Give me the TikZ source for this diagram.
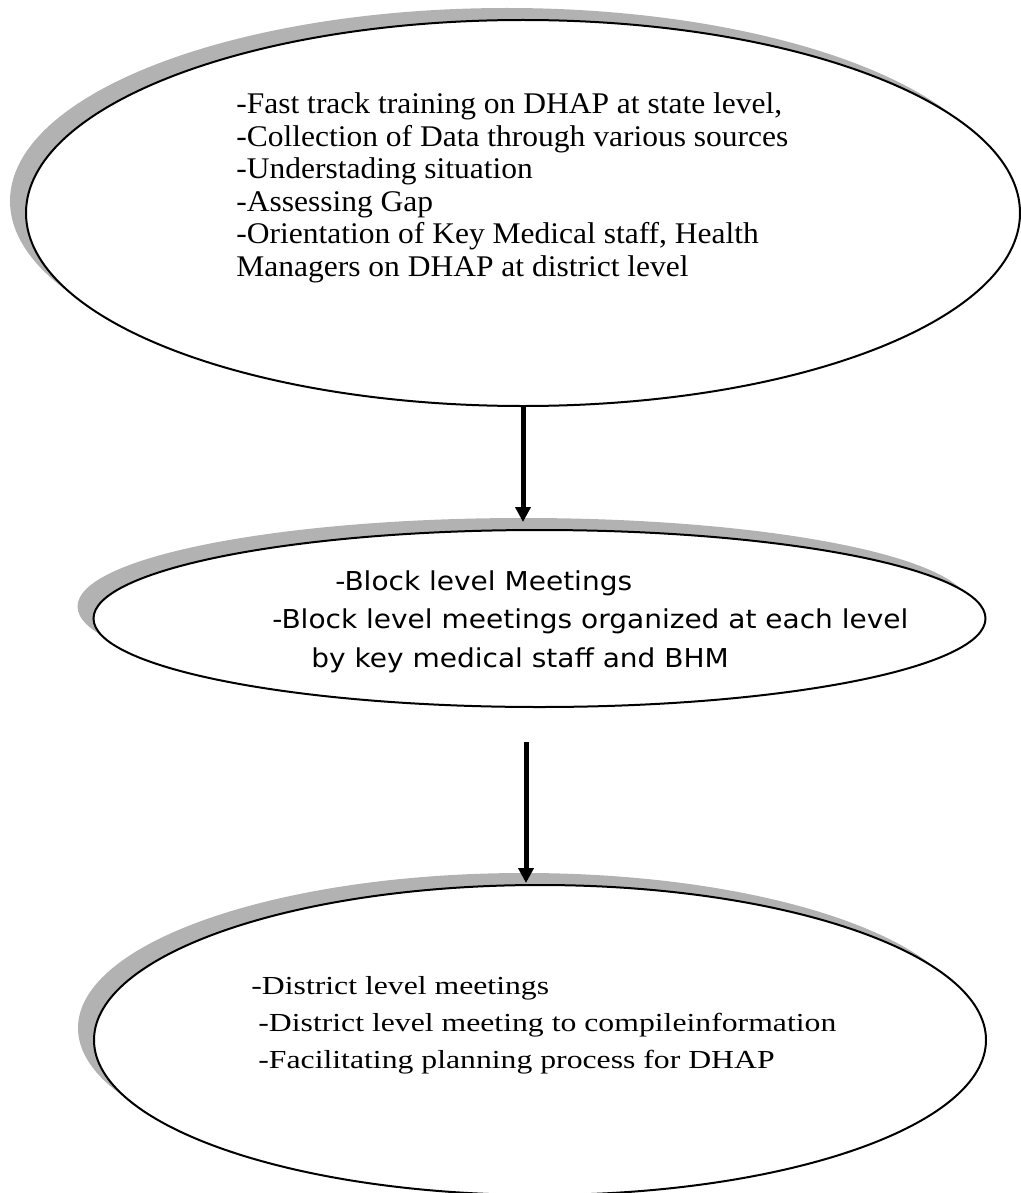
\documentclass[tikz,border=0pt]{standalone}
\usepackage{fontspec}
\setmainfont{Liberation Serif}
\newfontfamily\statefont[FakeStretch=1.05]{Liberation Serif}
\newfontfamily\blockfont[FakeStretch=1.077]{DejaVu Sans}
\newfontfamily\districtfont[FakeStretch=1.22]{Liberation Serif}
\usetikzlibrary{shapes.geometric,shadows,arrows.meta}

\begin{document}
\begin{tikzpicture}[x=0.5pt,y=-0.5pt,
   stage/.style={ellipse,draw,line width=1pt,fill=white,inner sep=0pt,
      drop shadow={shadow xshift=-8pt,shadow yshift=6pt,opacity=1,fill=black!30}},
   stagetext/.style={anchor=north west,align=left,inner sep=0pt},
   flow/.style={-{Triangle[length=7.5pt,width=7.5pt]},line width=2.5pt}]
\useasboundingbox (0,0) rectangle (1021,1193);
% the three stages
\node[stage,minimum width=497pt,minimum height=193pt] (state) at (523,213) {};
\node[stage,minimum width=446pt,minimum height=88.5pt] (block) at (539.5,618.5) {};
\node[stage,minimum width=446pt,minimum height=155pt] (district) at (540,1040) {};
% texts
\node[stagetext,font={\statefont\fontsize{15}{16.25}\selectfont}] (statetext) at (236,92.5)
  {-Fast track training on DHAP at state level,\\
   -Collection of Data through various sources\\
   -Understading situation\\
   -Assessing Gap\\
   -Orientation of Key Medical staff, Health\\
   Managers on DHAP at district level};
\node[stagetext,font={\blockfont\fontsize{13}{19.25}\selectfont}] (blocktext) at (272,570)
  {\hspace*{31.5pt}-Block level Meetings\\
   -Block level meetings organized at each level\\
   \hspace*{19.5pt}by key medical staff and BHM};
\node[stagetext,font={\districtfont\fontsize{13}{18.5}\selectfont}] (districttext) at (251,976)
  {-District level meetings\\
   \hspace*{3.5pt}-District level meeting to compileinformation\\
   \hspace*{3.5pt}-Facilitating planning process for DHAP};
% arrows
\coordinate (gap) at (526,742);
\draw[flow] (state.south) -- ([yshift=3.5pt]state.south |- block.north);
\draw[flow] (gap) -- ([yshift=0.5pt]gap |- district.north);
\end{tikzpicture}
\end{document}
